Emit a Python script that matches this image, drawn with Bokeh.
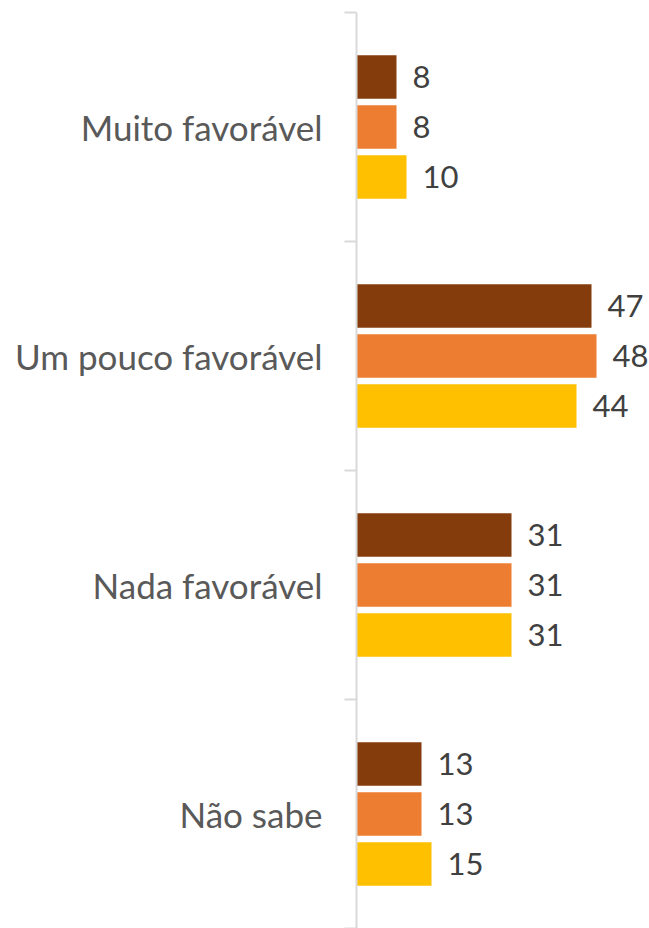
from bokeh.plotting import figure
from bokeh.models import ColumnDataSource, Range1d, FixedTicker
from bokeh.core.properties import value
from bokeh.embed import file_html
from bokeh.resources import INLINE

# ---- data ----
categories = ["Muito favorável", "Um pouco favorável", "Nada favorável", "Não sabe"]
serie_1 = [8, 47, 31, 13]    # dark brown
serie_2 = [8, 48, 31, 13]    # orange
serie_3 = [10, 44, 31, 15]   # yellow
colors = ["#843C0C", "#ED7D31", "#FFC000"]
offsets = [0.218, 0.0, -0.218]

n = len(categories)
centers = [n - i - 0.5 for i in range(n)]

p = figure(width=649, height=928, output_backend="svg", toolbar_location=None,
           x_range=Range1d(0, 58.6), y_range=Range1d(0, n),
           min_border_left=356, min_border_right=0, min_border_top=12, min_border_bottom=0)
p.outline_line_color = None
p.xgrid.visible = False
p.ygrid.visible = False
p.xaxis.visible = False

for vals, col, off in zip([serie_1, serie_2, serie_3], colors, offsets):
    src = ColumnDataSource(dict(y=[c + off for c in centers], v=vals,
                                lbl=[str(v) for v in vals]))
    p.hbar(y="y", left=0, right="v", height=0.19, fill_color=col, line_color=None, source=src)
    p.text(x="v", y="y", text="lbl", source=src, x_offset=16,
           text_baseline="middle", text_align="left",
           text_font=value("Lato"), text_font_size="31px", text_color="#404040")

ax = p.yaxis[0]
ax.ticker = FixedTicker(ticks=centers, minor_ticks=list(range(n + 1)))
ax.major_label_overrides = {c: cat for c, cat in zip(centers, categories)}
ax.major_tick_line_color = None
ax.major_tick_out = 0
ax.major_tick_in = 0
ax.minor_tick_out = 12
ax.minor_tick_in = 0
ax.minor_tick_line_color = "#D9D9D9"
ax.minor_tick_line_width = 2
ax.axis_line_color = "#D9D9D9"
ax.axis_line_width = 2
ax.major_label_standoff = 22
ax.major_label_text_font = "Lato"
ax.major_label_text_font_size = "35px"
ax.major_label_text_color = "#595959"

open("out.html", "w").write(file_html(p, INLINE))
